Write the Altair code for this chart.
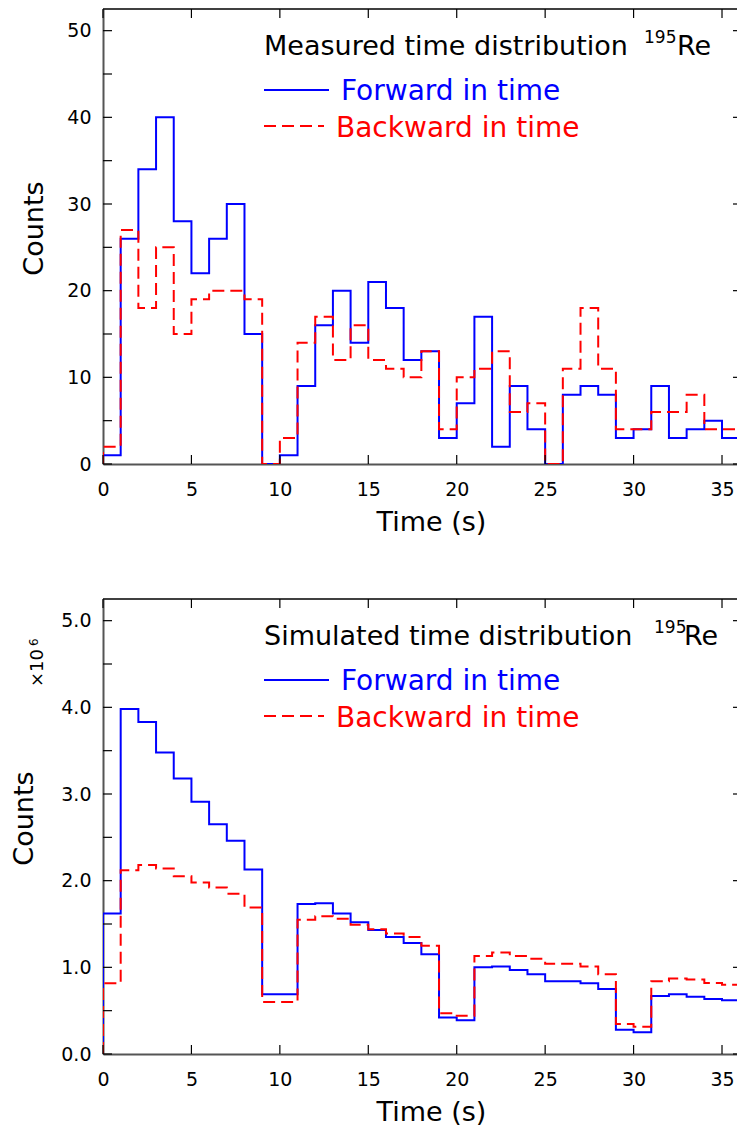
import altair as alt
import pandas as pd

# ---------------- data ----------------
time_bins = list(range(36))  # bin start, seconds (1 s bins)

meas_forward = [1, 26, 34, 40, 28, 22, 26, 30, 15, 0, 1, 9, 16, 20, 14, 21, 18, 12,
                13, 3, 7, 17, 2, 9, 4, 0, 8, 9, 8, 3, 4, 9, 3, 4, 5, 3]
meas_backward = [2, 27, 18, 25, 15, 19, 20, 20, 19, 0, 3, 14, 17, 12, 16, 12, 11, 10,
                 13, 4, 10, 11, 13, 6, 7, 0, 11, 18, 11, 4, 4, 6, 6, 8, 4, 4]

sim_forward = [1.62, 3.98, 3.83, 3.48, 3.18, 2.91, 2.65, 2.46, 2.13, 0.69, 0.69, 1.73,
               1.74, 1.62, 1.52, 1.43, 1.35, 1.28, 1.15, 0.42, 0.39, 1.00, 1.01, 0.97,
               0.92, 0.84, 0.84, 0.815, 0.75, 0.28, 0.25, 0.67, 0.69, 0.66, 0.635, 0.62]
sim_backward = [0.815, 2.12, 2.18, 2.14, 2.05, 1.98, 1.92, 1.85, 1.69, 0.60, 0.60, 1.55,
                1.59, 1.56, 1.49, 1.44, 1.39, 1.35, 1.25, 0.47, 0.44, 1.13, 1.17, 1.13,
                1.10, 1.04, 1.04, 1.01, 0.92, 0.345, 0.315, 0.84, 0.87, 0.86, 0.82, 0.80]

x_ticks = [0, 5, 10, 15, 20, 25, 30, 35]
meas_y_major = [0, 10, 20, 30, 40, 50]
meas_y_minor = [0, 5, 10, 15, 20, 25, 30, 35, 40, 45, 50]
sim_y_major = [0, 1, 2, 3, 4, 5]
sim_y_minor = [0, 0.5, 1, 1.5, 2, 2.5, 3, 3.5, 4, 4.5, 5]

# ---------------- layout constants ----------------
FONT = "DejaVu Sans"
W = 634
H = 455
PX_PER_S = 17.686
XMAX = W / PX_PER_S        # the figure is cropped at the right edge
BLUE = "#0000FF"
RED = "#FF0000"
AXIS_GRAY = "#555555"
TICK = 9


def step_df(values):
    rows = [{"t": 0, "v": 0, "i": 0}]
    for k, (t, v) in enumerate(zip(time_bins, values)):
        rows.append({"t": t, "v": v, "i": k + 1})
    rows.append({"t": time_bins[-1] + 1, "v": values[-1], "i": len(values) + 1})
    return pd.DataFrame(rows)


one = pd.DataFrame({"d": [0]})


def text(txt, x, y, size, color="black", angle=None, align="left", baseline="alphabetic"):
    kw = dict(text=txt, align=align, baseline=baseline, font=FONT, fontSize=size, color=color)
    if angle is not None:
        kw["angle"] = angle
    return alt.Chart(one).mark_text(**kw).encode(x=alt.value(x), y=alt.value(y))


def panel(fwd, bwd, ymax, ymajor, yminor, yfmt, title_text, sup_x, re_x, counts_x, extra=None):
    xs = alt.Scale(domain=[0, XMAX], nice=False, zero=False)
    ys = alt.Scale(domain=[0, ymax], nice=False, zero=False)
    xaxis = alt.Axis(values=x_ticks, title="Time (s)", ticks=False, grid=False,
                     labelPadding=16, labelFlush=False, labelOverlap=False,
                     domainColor=AXIS_GRAY, domainWidth=2,
                     labelFont=FONT, labelFontSize=19, labelColor="black",
                     titleFont=FONT, titleFontSize=27, titleFontWeight="normal",
                     titleColor="black", titleX=328, titleY=45, titleBaseline="top",
                     titleAlign="center")
    yaxis = alt.Axis(values=ymajor, format=yfmt, title="Counts", ticks=False, grid=False,
                     labelPadding=12, labelFlush=False, labelOverlap=False,
                     domainColor=AXIS_GRAY, domainWidth=2,
                     labelFont=FONT, labelFontSize=19, labelColor="black",
                     titleFont=FONT, titleFontSize=27, titleFontWeight="normal",
                     titleColor="black", titleX=counts_x, titleY=219, titleAngle=270,
                     titleBaseline="middle", titleAlign="center")

    X = alt.X("t:Q", scale=xs, axis=xaxis)
    Y = alt.Y("v:Q", scale=ys, axis=yaxis)

    fwd_line = alt.Chart(step_df(fwd)).mark_line(
        interpolate="step-after", color=BLUE, strokeWidth=2, clip=True
    ).encode(x=X, y=Y, order="i:Q")
    bwd_line = alt.Chart(step_df(bwd)).mark_line(
        interpolate="step-after", color=RED, strokeWidth=2, strokeDash=[12, 6], clip=True
    ).encode(x=X, y=Y, order="i:Q")

    xt = pd.DataFrame({"t": x_ticks})
    ymin_df = pd.DataFrame({"v": yminor})
    ymaj_df = pd.DataFrame({"v": ymajor})
    tick_style = dict(color="black", strokeWidth=1.2)
    bottom_ticks = alt.Chart(xt).mark_rule(**tick_style).encode(
        x=X, y=alt.value(H), y2=alt.value(H - TICK))
    top_ticks = alt.Chart(xt).mark_rule(**tick_style).encode(
        x=X, y=alt.value(0), y2=alt.value(TICK))
    left_ticks = alt.Chart(ymin_df).mark_rule(**tick_style).encode(
        y=Y, x=alt.value(0), x2=alt.value(TICK))
    right_ticks = alt.Chart(ymaj_df).mark_rule(**tick_style).encode(
        y=Y, x=alt.value(W - 4), x2=alt.value(W))
    top_frame = alt.Chart(one).mark_rule(color="black", strokeWidth=1.5).encode(
        x=alt.value(0), x2=alt.value(W), y=alt.value(0))

    leg_blue = alt.Chart(one).mark_rule(color=BLUE, strokeWidth=2).encode(
        x=alt.value(161), x2=alt.value(226), y=alt.value(81))
    leg_red = alt.Chart(one).mark_rule(color=RED, strokeWidth=2, strokeDash=[12, 6]).encode(
        x=alt.value(161), x2=alt.value(221), y=alt.value(117))

    layers = [fwd_line, bwd_line, bottom_ticks, top_ticks, left_ticks, right_ticks, top_frame,
              leg_blue, leg_red,
              text(title_text, 161, 46, 27),
              text("195", sup_x, 34, 17),
              text("Re", re_x, 46, 27),
              text("Forward in time", 238, 91, 28, BLUE),
              text("Backward in time", 233, 128, 28, RED)]
    if extra is not None:
        layers.extend(extra)
    return alt.layer(*layers).properties(width=W, height=H)


top = panel(meas_forward, meas_backward, 52.5, meas_y_major, meas_y_minor, "d",
            "Measured time distribution", 541, 574, -68.7)
bottom = panel(sim_forward, sim_backward, 5.25, sim_y_major, sim_y_minor, ".1f",
               "Simulated time distribution", 551, 581, -78.5,
               extra=[text("×10", -60.5, 88, 18, angle=270),
                      text("6", -65.5, 47, 12, angle=270)])

chart = alt.vconcat(top, bottom, spacing=63).properties(
    padding={"left": 2, "top": 0, "right": -1, "bottom": 0}
).configure_view(stroke=None)

chart.save("out.html", embed_options={"renderer": "svg", "actions": False})
